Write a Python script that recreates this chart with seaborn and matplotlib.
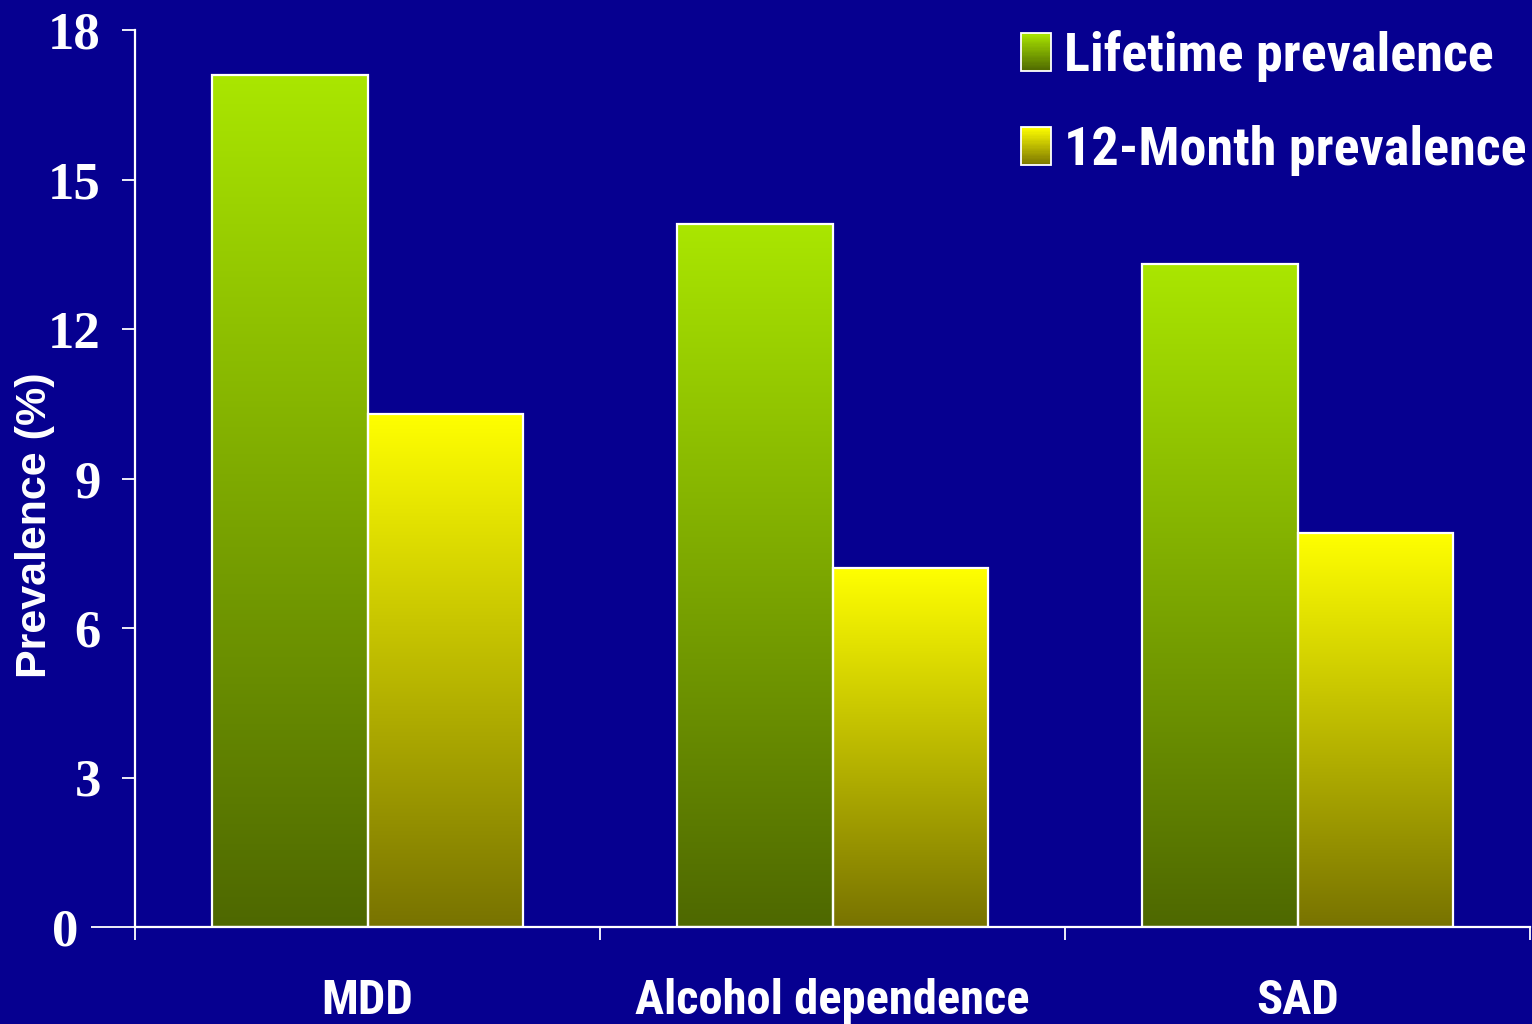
import numpy as np
import pandas as pd
import matplotlib
matplotlib.use('Agg')
import matplotlib.pyplot as plt
import seaborn as sns
from matplotlib.colors import LinearSegmentedColormap, to_rgb
from matplotlib.patches import Rectangle, Patch
from matplotlib.legend_handler import HandlerBase

categories = ['MDD', 'Alcohol dependence', 'SAD']
series = ['Lifetime prevalence', '12-Month prevalence']
lifetime = [17.1, 14.1, 13.3]
twelve_month = [10.3, 7.2, 7.9]
yticks = [3, 6, 9, 12, 15, 18]

bg = '#060090'
grad = {
    'Lifetime prevalence': ('#4e6800', '#aae600'),
    '12-Month prevalence': ('#787300', '#ffff00'),
}

df = pd.DataFrame({
    'disorder': categories * 2,
    'prevalence': lifetime + twelve_month,
    'period': [series[0]] * 3 + [series[1]] * 3,
})

sns.set_style('white')
narrow = ['Roboto Condensed', 'Liberation Sans', 'DejaVu Sans']
serif = ['Liberation Serif', 'DejaVu Serif']

fig = plt.figure(figsize=(15.32, 10.24), dpi=100, facecolor=bg)
ax = fig.add_axes([135 / 1532, 1 - 927 / 1024, 1395 / 1532, 897 / 1024])
ax.set_facecolor(bg)

sns.barplot(data=df, x='disorder', y='prevalence', hue='period',
            hue_order=series, order=categories, width=0.667,
            palette=[grad[s][1] for s in series], saturation=1,
            edgecolor='white', linewidth=1.6, legend=False, ax=ax)

# gradient fill for every bar
for cont, s in zip(ax.containers, series):
    cmap = LinearSegmentedColormap.from_list(s, list(grad[s]))
    for p in cont:
        x0, w, h = p.get_x(), p.get_width(), p.get_height()
        ax.imshow(np.linspace(0, 1, 256).reshape(-1, 1), cmap=cmap,
                  origin='lower', aspect='auto', extent=[x0, x0 + w, 0, h],
                  zorder=1)
        p.set_facecolor('none')
        p.set_zorder(2)

ax.set_xlim(-0.5, 2.5)
ax.set_ylim(0, 18)
ax.set_yticks(yticks, labels=[str(t) for t in yticks])
# the zero tick reaches further left in the original
ax.set_yticks([0], labels=['0'], minor=True)
ax.set_xticks([0, 1, 2], labels=categories)
ax.set_xticks([-0.5, 0.5, 1.5, 2.5], minor=True)

for side in ['top', 'right']:
    ax.spines[side].set_visible(False)
for side in ['left', 'bottom']:
    ax.spines[side].set_color('white')
    ax.spines[side].set_linewidth(1.6)

ax.tick_params(axis='y', which='major', left=True, direction='out', length=9.5,
               width=1.3, color='white', pad=15, labelcolor='white')
ax.tick_params(axis='y', which='minor', left=True, direction='out', length=32,
               width=1.3, color='white', pad=9, labelcolor='white')
ax.tick_params(axis='x', which='major', bottom=True, length=0, pad=37,
               labelcolor='white')
ax.tick_params(axis='x', which='minor', bottom=True, direction='out',
               length=9.5, width=1.3, color='white')

for lab in ax.get_yticklabels() + ax.get_yticklabels(minor=True):
    lab.set_fontfamily(serif)
    lab.set_fontweight('bold')
    lab.set_fontsize(38)
for lab in ax.get_xticklabels():
    lab.set_fontfamily(narrow)
    lab.set_fontweight('bold')
    lab.set_fontsize(35)

ax.set_xlabel('')
ax.set_ylabel('Prevalence (%)', color='white', fontsize=31, fontweight='bold',
              family=['Liberation Sans', 'DejaVu Sans'], va='center')
ax.yaxis.set_label_coords(-0.0717, 0.448)


class GradientHandler(HandlerBase):
    def __init__(self, bottom, top):
        super().__init__()
        self.bottom = np.array(to_rgb(bottom))
        self.top = np.array(to_rgb(top))

    def create_artists(self, legend, orig_handle, xdescent, ydescent,
                       width, height, fontsize, trans):
        n = 30
        arts = []
        for i in range(n):
            c = self.bottom + (self.top - self.bottom) * (i + 0.5) / n
            arts.append(Rectangle((-xdescent, -ydescent + height * i / n),
                                  width, height / n, facecolor=c,
                                  edgecolor='none', transform=trans))
        arts.append(Rectangle((-xdescent, -ydescent), width, height,
                              facecolor='none', edgecolor='white', lw=1.3,
                              transform=trans))
        return arts


handles = [Patch(label=s) for s in series]
leg = fig.legend(handles=handles, labels=series,
                 handler_map={h: GradientHandler(*grad[s]) for h, s in zip(handles, series)},
                 loc='upper left', bbox_to_anchor=(1021 / 1532, 1 - 30 / 1024),
                 bbox_transform=fig.transFigure, frameon=False, borderpad=0,
                 borderaxespad=0, handlelength=0.55, handleheight=0.7,
                 handletextpad=0.25, labelspacing=0.8,
                 prop={'family': narrow, 'weight': 'bold', 'size': 39})
for t in leg.get_texts():
    t.set_color('white')

fig.savefig('out.png', dpi=100, facecolor=bg)
